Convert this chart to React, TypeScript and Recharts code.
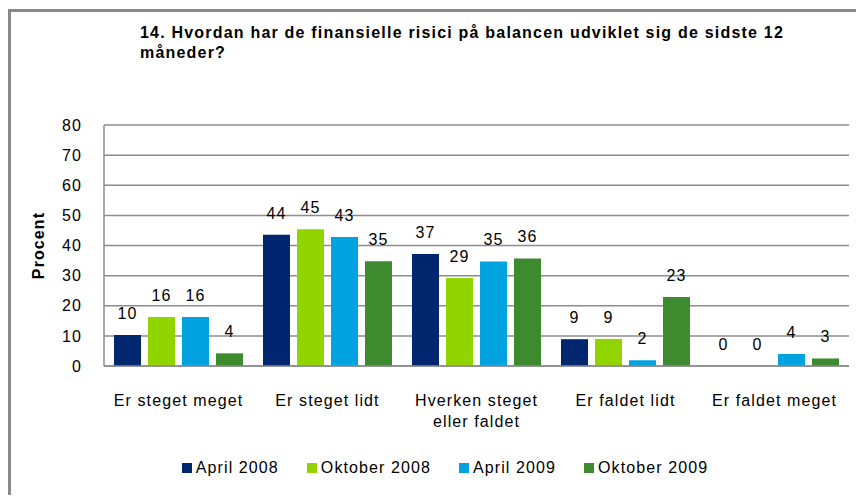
import React from "react";
import { Bar, BarChart, CartesianGrid, LabelList, Legend, XAxis, YAxis } from "recharts";

const categories = ["Er steget meget", "Er steget lidt", "Hverken steget\neller faldet", "Er faldet lidt", "Er faldet meget"];
const april2008 = [10.3, 43.6, 37.2, 8.9, 0];
const oktober2008 = [16.3, 45.4, 29.2, 9.0, 0];
const april2009 = [16.3, 42.8, 34.7, 1.9, 4.0];
const oktober2009 = [4.2, 34.8, 35.7, 22.9, 2.5];
const yTicks = [0, 10, 20, 30, 40, 50, 60, 70, 80];

const series = [
  { key: "a08", name: "April 2008", color: "#00266f", values: april2008 },
  { key: "o08", name: "Oktober 2008", color: "#92d400", values: oktober2008 },
  { key: "a09", name: "April 2009", color: "#00a3e0", values: april2009 },
  { key: "o09", name: "Oktober 2009", color: "#3d8a2f", values: oktober2009 },
];

const data = categories.map((c, i) => {
  const row: Record<string, string | number> = { cat: c };
  series.forEach((s) => (row[s.key] = s.values[i]));
  return row;
});

const font = "Arial, 'Liberation Sans', sans-serif";
const spacing = "1.1px";
const grid = "#8c8c8c";

const CatTick = (props: any) => {
  const { x, y, payload } = props;
  const lines = String(payload.value).split("\n");
  return (
    <text x={x} y={y} textAnchor="middle" fontSize={16} fill="#000" fontFamily={font} style={{ letterSpacing: spacing }}>
      {lines.map((l, i) => (
        <tspan key={i} x={x} dy={i === 0 ? 16 : 21}>
          {l}
        </tspan>
      ))}
    </text>
  );
};

// value label above each bar, also drawn for zero-height bars
const ValueLabel = (props: any) => {
  const { x, y, width, height, value } = props;
  const top = Math.min(y, y + height);
  return (
    <text x={x + width / 2} y={top - 16} textAnchor="middle" fontSize={16} fill="#000" fontFamily={font} style={{ letterSpacing: spacing }}>
      {Math.round(Number(value))}
    </text>
  );
};

const LegendBox = () => (
  <div style={{ display: "flex", justifyContent: "center", gap: 28, fontFamily: font, fontSize: 16, lineHeight: "20px", letterSpacing: spacing }}>
    {series.map((s) => (
      <div key={s.key} style={{ display: "flex", alignItems: "center" }}>
        <span style={{ width: 10, height: 10, background: s.color, marginRight: 4 }} />
        <span>{s.name}</span>
      </div>
    ))}
  </div>
);

export default function App() {
  return (
    <div style={{ position: "relative", width: 864, height: 503, margin: -8, overflow: "hidden", background: "#fff", fontFamily: font }}>
      <div style={{ position: "absolute", left: 8, top: 9, width: 920, height: 540, borderLeft: "3px solid #898989", borderTop: "3px solid #898989" }} />
      <div style={{ position: "absolute", left: 140, top: 23, fontSize: 16, fontWeight: "bold", lineHeight: "20px", color: "#000", letterSpacing: "1.2px", whiteSpace: "nowrap" }}>
        14. Hvordan har de finansielle risici på balancen udviklet sig de sidste 12
        <br />
        måneder?
      </div>
      <div style={{ position: "absolute", left: 0, top: 0 }}>
        <BarChart
          width={864}
          height={503}
          data={data}
          margin={{ top: 125, right: 15, bottom: 97, left: 34 }}
          barCategoryGap={10}
          barGap={7}
        >
          <CartesianGrid vertical={false} stroke={grid} strokeWidth={1.5} />
          <XAxis
            dataKey="cat"
            height={40}
            tickLine={false}
            tickSize={0}
            tickMargin={24}
            axisLine={{ stroke: grid, strokeWidth: 1.5 }}
            tick={<CatTick />}
            interval={0}
          />
          <YAxis
            width={70}
            domain={[0, 80]}
            ticks={yTicks}
            tickLine={false}
            tickSize={0}
            tickMargin={22}
            axisLine={{ stroke: grid, strokeWidth: 1.5 }}
            tick={{ fill: "#000", fontSize: 16, fontFamily: font, style: { letterSpacing: spacing } }}
            label={{ value: "Procent", angle: -90, position: "center", dx: -31, fill: "#000", fontSize: 16, fontWeight: "bold", fontFamily: font, style: { letterSpacing: spacing } }}
          />
          <Legend
            layout="horizontal"
            verticalAlign="middle"
            align="center"
            content={<LegendBox />}
            wrapperStyle={{ left: 0, top: 458, width: 890, height: 20 }}
          />
          {series.map((s) => (
            <Bar key={s.key} dataKey={s.key} name={s.name} fill={s.color} minPointSize={0.01} isAnimationActive={false}>
              <LabelList dataKey={s.key} content={<ValueLabel />} />
            </Bar>
          ))}
        </BarChart>
      </div>
    </div>
  );
}
